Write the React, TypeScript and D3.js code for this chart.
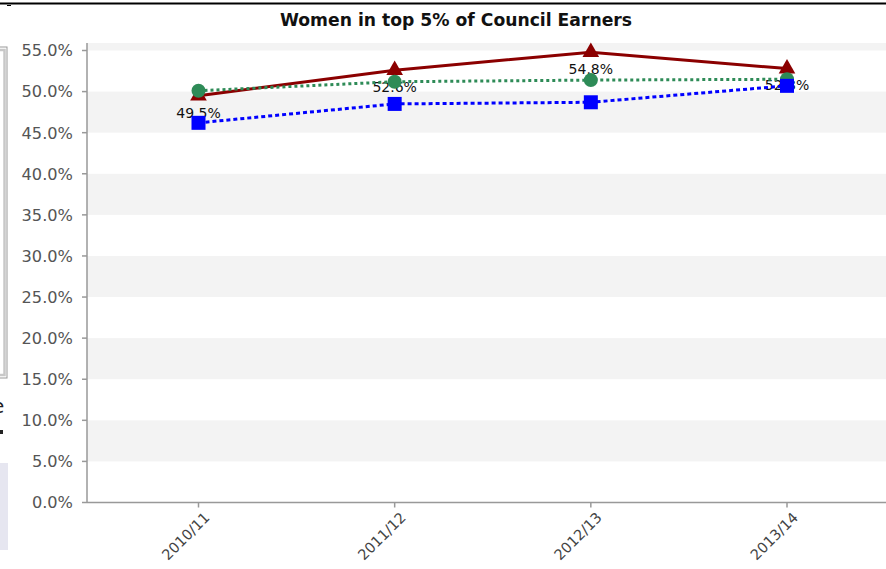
import React from "react";
import * as d3 from "d3";

const categories = ["2010/11", "2011/12", "2012/13", "2013/14"];
const redValues = [49.5, 52.6, 54.8, 52.8];
const redLabels = ["49.5%", "52.6%", "54.8%", "52.8%"];
const greenValues = [50.1, 51.2, 51.4, 51.5];
const blueValues = [46.2, 48.5, 48.7, 50.7];
const yTicks = [0, 5, 10, 15, 20, 25, 30, 35, 40, 45, 50, 55];
const title = "Women in top 5% of Council Earners";

const W = 886;
const H = 569;
const plotLeft = 87;
const plotRight = 886;
const plotTop = 43;

export default function App() {
  const x = d3.scalePoint<string>().domain(categories).range([198.5, 787]);
  const y = d3.scaleLinear().domain([0, 55]).range([502.5, 50.5]);
  const line = d3
    .line<number>()
    .x((_, i) => x(categories[i]) as number)
    .y((v) => y(v));

  const bands: { y0: number; y1: number }[] = [];
  for (let t = 5; t < 55; t += 10) bands.push({ y0: y(t + 5), y1: y(t) });
  bands.push({ y0: plotTop, y1: y(55) });

  const tri = d3.symbol().type(d3.symbolTriangle).size(120)();

  return (
    <svg
      width={W}
      height={H}
      style={{ position: "absolute", left: 0, top: 0, background: "#fff" }}
      fontFamily="DejaVu Sans, Verdana, sans-serif"
    >
      {/* page fragments */}
      <line x1={0} x2={W} y1={3.5} y2={3.5} stroke="#000" strokeWidth={2} />
      <line x1={7} x2={11} y1={5.5} y2={5.5} stroke="#000" strokeWidth={1} />
      <rect x={-10} y={47} width={17} height={331} fill="#fff" stroke="#999" strokeWidth={1} />
      <rect x={-10} y={50} width={14.5} height={325} fill="none" stroke="#c8c8c8" strokeWidth={2.5} />
      <text x={-8} y={413} fontSize={20} fill="#222">e</text>
      <rect x={0} y={430} width={3} height={4} fill="#222" />
      <rect x={0} y={463} width={8} height={87} fill="#e6e6f0" />

      {/* title */}
      <text x={456} y={26} textAnchor="middle" fontWeight="bold" fontSize={17.2} fill="#111">
        {title}
      </text>

      {/* plot bands */}
      {bands.map((b, i) => (
        <rect key={i} x={plotLeft} y={b.y0} width={plotRight - plotLeft} height={b.y1 - b.y0} fill="#f3f3f3" />
      ))}

      {/* y axis */}
      <line x1={plotLeft} x2={plotLeft} y1={plotTop} y2={y(0)} stroke="#999" strokeWidth={1.5} />
      {yTicks.map((t) => (
        <g key={t}>
          <line x1={plotLeft - 5} x2={plotLeft} y1={y(t)} y2={y(t)} stroke="#999" strokeWidth={1.5} />
          <text x={plotLeft - 14} y={y(t)} dy="0.36em" textAnchor="end" fontSize={16.2} fill="#555">
            {t.toFixed(1) + "%"}
          </text>
        </g>
      ))}

      {/* x axis */}
      <line x1={plotLeft} x2={plotRight} y1={y(0)} y2={y(0)} stroke="#999" strokeWidth={1.5} />
      {categories.map((c) => {
        const cx = x(c) as number;
        return (
          <g key={c}>
            <line x1={cx} x2={cx} y1={y(0)} y2={y(0) + 5} stroke="#999" strokeWidth={1.5} />
            <text
              transform={`translate(${cx + 12},${y(0) + 16}) rotate(-45)`}
              textAnchor="end"
              fontSize={14.5}
              fill="#444"
            >
              {c}
            </text>
          </g>
        );
      })}

      {/* red series */}
      <path d={line(redValues) || ""} fill="none" stroke="#8b0000" strokeWidth={3} />
      {redValues.map((v, i) => (
        <path key={i} d={tri || ""} transform={`translate(${x(categories[i])},${y(v)})`} fill="#8b0000" />
      ))}
      {redValues.map((v, i) => (
        <text
          key={"l" + i}
          x={x(categories[i]) as number}
          y={y(v) + 17}
          dy="0.35em"
          textAnchor="middle"
          fontSize={14}
          fill="#111"
        >
          {redLabels[i]}
        </text>
      ))}

      {/* green series */}
      <path
        d={line(greenValues) || ""}
        fill="none"
        stroke="#2e8b57"
        strokeWidth={3}
        strokeDasharray="3,3"
      />
      {greenValues.map((v, i) => (
        <circle key={i} cx={x(categories[i]) as number} cy={y(v)} r={7} fill="#2e8b57" />
      ))}

      {/* blue series */}
      <path
        d={line(blueValues) || ""}
        fill="none"
        stroke="#0000ff"
        strokeWidth={3}
        strokeDasharray="4,3"
      />
      {blueValues.map((v, i) => (
        <rect
          key={i}
          x={(x(categories[i]) as number) - 7}
          y={y(v) - 7}
          width={14}
          height={14}
          fill="#0000ff"
        />
      ))}
    </svg>
  );
}
